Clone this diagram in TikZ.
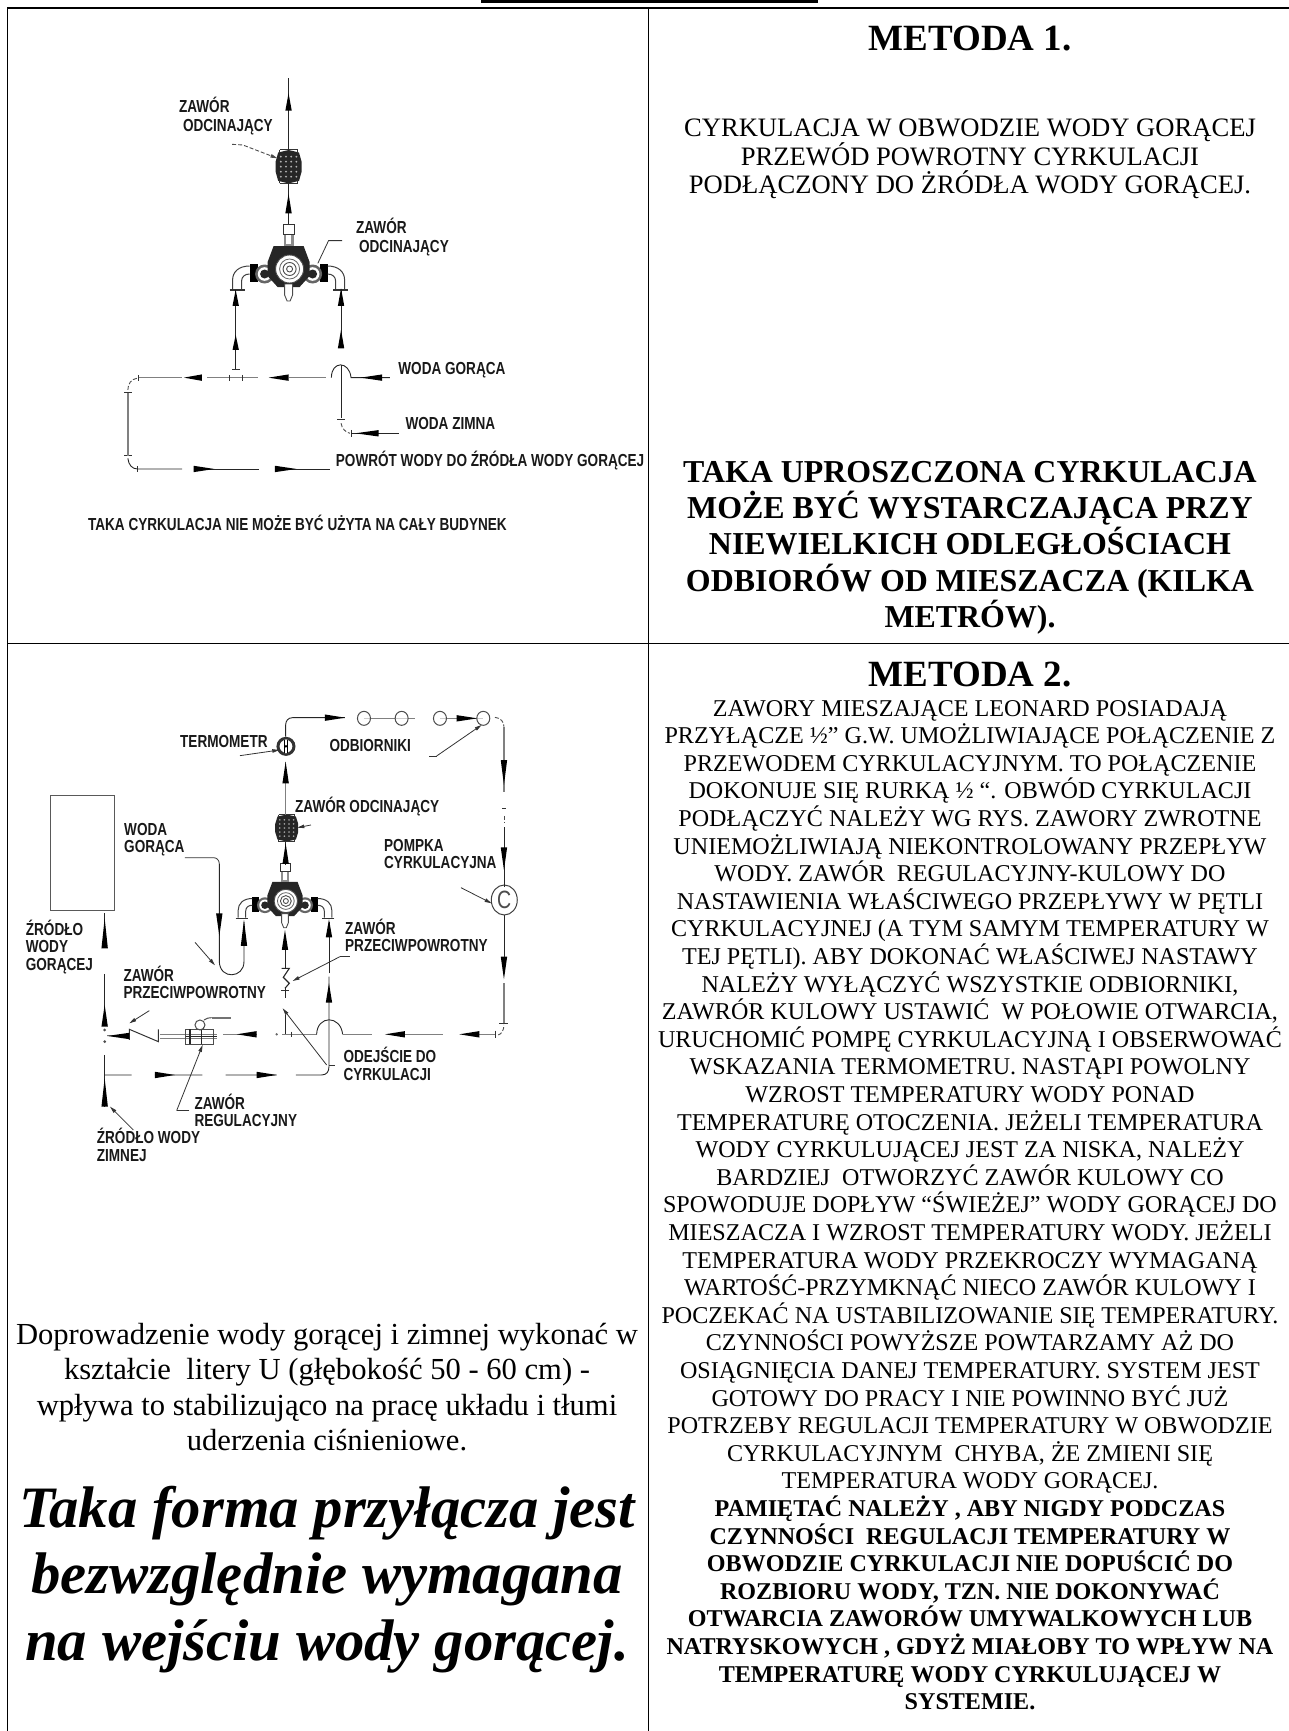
\documentclass[tikz,border=0pt]{standalone}
\usepackage{fontspec}
\setmainfont{Liberation Serif}
\newfontfamily\lab[FakeStretch=0.78]{Liberation Sans}
\usetikzlibrary{calc,arrows.meta}
\tikzset{
  pipe/.style={line width=0.9pt,black!85},
  pipeg/.style={line width=1.5pt,black!50},
  tick/.style={line width=0.8pt,black!80},
  dashp/.style={line width=0.9pt,black!70,dash pattern=on 4pt off 2pt},
  ptr/.style={line width=0.8pt,black!80,-{Triangle[length=7pt,width=3.5pt]}},
  ptrn/.style={line width=0.8pt,black!80},
  lbl/.style={anchor=west,inner sep=0pt,font=\lab\bfseries\fontsize{17.4pt}{17.4pt}\selectfont,align=left,text=black!90},
  body/.style={anchor=base,inner sep=0pt,font=\fontsize{24.1pt}{27pt}\selectfont},
  bodyl/.style={anchor=base,inner sep=0pt,font=\fontsize{26.6pt}{28pt}\selectfont},
  bodyb/.style={anchor=base,inner sep=0pt,font=\bfseries\fontsize{24.1pt}{27pt}\selectfont},
  head/.style={anchor=base,inner sep=0pt,font=\bfseries\fontsize{37pt}{40pt}\selectfont},
  bigb/.style={anchor=base,inner sep=0pt,font=\bfseries\fontsize{31.9pt}{36pt}\selectfont},
  para/.style={anchor=base,inner sep=0pt,font=\fontsize{30.6pt}{36pt}\selectfont},
  bigi/.style={anchor=base,inner sep=0pt,font=\bfseries\itshape\fontsize{58.7pt}{67pt}\selectfont},
  rule/.style={line width=1pt,black}
}
\def\ah(#1)(#2){\fill[black] (#1) -- ($(#2)!3.2pt!90:(#1)$) -- ($(#2)!3.2pt!-90:(#1)$) -- cycle;}
\newcommand\mixer[3]{%
  \begin{scope}[shift={(#1,#2)},x=#3pt,y=-#3pt]
    \foreach \sg in {-1,1}{
      \begin{scope}[xscale=\sg]
        \fill[black] (-39,-2) rectangle (-31,16);
        \draw[line width=1pt,black!75] (-39,0) .. controls (-50,0) and (-56,6) .. (-56,14) -- (-56,23);
        \draw[line width=1pt,black!75] (-39,8) .. controls (-44,8) and (-47,11) .. (-47,15) -- (-47,23);
        \draw[line width=1.1pt,black!80] (-59,24) -- (-44,24);
        \fill[black!60] (-24,8) circle [radius=9.5];
        \fill[white] (-24,8) circle [radius=6.8];
        \fill[black!85] (-24,8) circle [radius=4.5];
      \end{scope}
    }
    \fill[black!85] (-15,-20) -- (15,-20) -- (21,-4) -- (21,10) -- (11,21) -- (-11,21) -- (-21,10) -- (-21,-4) -- cycle;
    \fill[black!45] (-5,-32) rectangle (5,-20);
    \fill[white] (-2.5,-32) rectangle (2.5,-22);
    \draw[line width=1pt,black!80,fill=white] (-5,-42) rectangle (6,-32);
    \draw[line width=0.9pt,black!70,fill=white] (-4,18) -- (-4,29) -- (-1.5,35) -- (1.5,35) -- (4,29) -- (4,18) -- cycle;
    \draw[line width=0.9pt,black!70,fill=white] (1,3) circle [radius=14];
    \draw[line width=0.8pt,black!60] (1,3) circle [radius=10];
    \draw[line width=0.9pt,black!70] (1,3) circle [radius=6.5];
    \draw[line width=0.9pt,black!70] (1,3) circle [radius=3];
  \end{scope}}
\newcommand\hexvalve[4]{%
  \begin{scope}[shift={(#1,#2)},x=#3pt,y=-#4pt]
    \fill[black!85] (0,-1) -- (0.8,-0.85) -- (1,-0.3) -- (1,0.3) -- (0.8,0.85) -- (0,1) -- (-0.8,0.85) -- (-1,0.3) -- (-1,-0.3) -- (-0.8,-0.85) -- cycle;
    \foreach \i in {-0.6,-0.2,0.2,0.6}\foreach \j in {-0.6,-0.3,0,0.3,0.6}{\fill[black!30] (\i,\j) circle [x radius=0.08,y radius=0.06];}
    \draw[line width=1pt,black!80] (-0.7,-1) -- (0.7,-1) (-0.7,1) -- (0.7,1);
    \draw[line width=0.7pt,black!80] (-0.7,-1) -- (-0.7,-0.8) (0.7,-1) -- (0.7,-0.8) (-0.7,1) -- (-0.7,0.8) (0.7,1) -- (0.7,0.8);
  \end{scope}}
\begin{document}
\begin{tikzpicture}[x=1pt,y=-1pt]
\useasboundingbox (0,0) rectangle (1289,1731);
% page frame
\fill[black] (481,0) rectangle (818,3);
\draw[line width=1.5pt] (7,8) -- (1289,8);
\draw[rule] (7,8) -- (7,1731);
\draw[rule] (648,8) -- (648,1731);
\draw[rule] (7,643) -- (1289,643);

% ---------- first diagram
\mixer{288.6}{266}{1}
\hexvalve{288.6}{166.7}{13}{16.7}
\begin{scope}[shift={(100,50)},x=0.3571pt,y=-0.3333pt]
  \draw[pipe] (528,85) -- (528,300);
  \ah(528,130)(528,182)
  \draw[pipe] (528,400) -- (528,522);
  \ah(528,432)(528,490)
  \draw[ptr,dashp] (370,283) -- (400,285) -- (497,325);
  \draw[ptrn] (678,572) -- (640,572) -- (610,640);
  \draw[pipe] (380,958) -- (380,722);
  \ah(380,720)(380,768)
  \ah(380,855)(380,900)
  \draw[pipe] (675,722) -- (675,895);
  \ah(675,715)(675,768)
  \ah(675,840)(675,895)
  % hot line
  \draw[pipeg] (108,983) -- (230,983) (300,983) -- (443,983) (528,983) -- (632,983);
  \ah(235,983)(285,983)
  \ah(472,983)(528,983)
  \draw[tick] (362,975) -- (362,992) (400,975) -- (400,992) (370,958) -- (392,958) (108,975) -- (108,992);
  \draw[pipe] (648,983) .. controls (648,932) and (698,932) .. (703,983) -- (812,983);
  \ah(730,983)(790,983)
  % cold
  \draw[pipe] (675,945) -- (675,1105);
  \draw[tick] (665,1108) -- (685,1108);
  \draw[dashp] (675,1120) .. controls (677,1135) and (688,1148) .. (700,1150);
  \draw[tick] (703,1140) -- (703,1160);
  \draw[pipe] (703,1150) -- (838,1150);
  \ah(715,1150)(780,1150)
  % return
  \draw[dashp] (103,985) .. controls (88,988) and (78,1000) .. (78,1020);
  \draw[tick] (68,1028) -- (90,1028) (68,1217) -- (90,1217) (105,1248) -- (105,1267);
  \draw[pipeg] (78,1028) -- (78,1217);
  \draw[pipe] (78,1225) .. controls (80,1245) and (90,1257) .. (105,1257) -- (230,1257);
  \draw[pipe] (262,1257) -- (445,1257);
  \ah(320,1257)(262,1257)
  \draw[pipe] (490,1257) -- (643,1257);
  \ah(550,1257)(490,1257)
  % labels
  \node[lbl] (a1) at (232,197) {\hspace*{-4pt}ZAWÓR\\[1.6pt]ODCINAJĄCY};
  \node[lbl] (a2) at (725,562) {\hspace*{-3pt}ZAWÓR\\[1.6pt]ODCINAJĄCY};
  \node[lbl] (a3) at (835,962) {WODA GORĄCA};
  \node[lbl] (a4) at (855,1120) {WODA ZIMNA};
  \node[lbl] (a5) at (660,1232) {POWRÓT WODY DO ŹRÓDŁA WODY GORĄCEJ};
  \node[lbl] (a6) at (-34,1418) {TAKA CYRKULACJA NIE MOŻE BYĆ UŻYTA NA CAŁY BUDYNEK};
\end{scope}

% ---------- second diagram
\mixer{285}{898.5}{0.836}
\hexvalve{286.7}{828}{11.5}{13.5}
\begin{scope}[shift={(20,690)},x=0.3333pt,y=-0.3333pt]
  % source
  \draw[line width=1.1pt,black!65] (92,317) rectangle (283,662);
  \draw[pipe] (254,670) -- (254,770);
  \ah(254,685)(254,775)
  \draw[pipe] (254,852) -- (254,1005);
  \ah(254,945)(254,1010)
  \fill[black!70] (254,1020) circle (1.5pt) (254,1055) circle (1.5pt);
  \draw[pipe] (254,1095) -- (254,1250);
  \ah(254,1165)(254,1250)
  % cold branch
  \draw[pipe] (254,1155) -- (335,1155) (405,1155) -- (547,1155) (617,1155) -- (770,1155) (828,1155) -- (905,1155) .. controls (920,1155) and (927,1145) .. (927,1130) -- (927,860);
  \ah(465,1155)(405,1155)
  \ah(770,1155)(710,1155)
  \draw[tick] (927,1125) -- (945,1125);
  \ah(927,880)(927,938)
  \draw[pipe] (927,850) -- (927,695);
  \ah(927,688)(927,742)
  % hot line
  \draw[pipeg] (787,1033) -- (890,1033) (970,1033) -- (1055,1033) (1150,1033) -- (1268,1033) (1378,1033) -- (1425,1033);
  \draw[pipe] (890,1033) .. controls (892,975) and (962,975) .. (968,1033);
  \ah(1095,1033)(1155,1033)
  \ah(1318,1033)(1378,1033)
  \draw[tick] (1425,1022) -- (1425,1045) (1438,1000) -- (1465,1000) (815,1025) -- (815,1040);
  \draw[dashp] (1435,1035) .. controls (1445,1032) and (1452,1020) .. (1452,1005);
  \draw[pipeg] (1452,1000) -- (1452,880);
  \ah(1452,868)(1452,800)
  \draw[pipe] (1452,800) -- (1452,675);
  \draw[line width=1pt,black!75,fill=white] (1453,630) ellipse (13pt and 15pt);
  \node[inner sep=0pt,font=\lab\fontsize{25pt}{25pt}\selectfont,text=black!70] (c) at (1453,630) {C};
  \draw[pipe] (1452,590) -- (1452,410);
  \ah(1452,540)(1452,472)
  \draw[tick] (1447,355) -- (1458,355);
  \draw[dashp] (1452,378) -- (1452,400);
  \draw[pipeg] (1452,305) -- (1452,110);
  \ah(1452,285)(1452,210)
  \draw[dashp] (1425,82) .. controls (1442,84) and (1452,95) .. (1452,110);
  % top
  \draw[pipe] (797,140) -- (797,105) .. controls (797,92) and (805,83) .. (818,83) -- (975,83);
  \ah(975,83)(915,83)
  \draw[pipeg] (1032,85) -- (1185,85) (1260,85) -- (1390,85);
  \ah(1372,85)(1310,85)
  \foreach \cx/\nm in {1032/r1,1145/r2,1260/r3,1390/r4}{\draw[line width=1pt,black!70,fill=white,fill opacity=0.6] (\cx,85) ellipse (6.5pt and 7pt);}
  \draw[ptrn] (1228,198) -- (1250,198);
  \draw[ptr] (1250,198) -- (1385,105);
  % thermometer
  \draw[line width=3pt,black!80,fill=white] (798,169) circle (8pt);
  \fill[white] (798,169) ellipse (4pt and 7pt);
  \draw[line width=0.8pt,black] (794,150) -- (794,188) (802,150) -- (802,188);
  \fill[black] (798,169) circle (1.4pt);
  \draw[ptr] (660,197) -- (778,180);
  % between thermometer and valve
  \draw[pipeg] (797,215) -- (797,375);
  \ah(797,215)(797,280)
  \draw[ptr] (873,405) -- (832,413);
  \draw[pipe] (797,455) -- (797,525);
  \ah(797,460)(797,522)
  % check valve below mixer
  \draw[pipe] (795,780) -- (795,835);
  \ah(795,720)(795,780)
  \draw[line width=1.1pt,black!85] (785,835) -- (808,835) -- (790,862) -- (808,880) -- (795,895);
  \draw[tick] (783,900) -- (808,900);
  \draw[pipe] (795,895) -- (795,925);
  \draw[pipe] (795,975) -- (795,1033);
  \fill[black!60] (770,1033) circle (1.3pt);
  \draw[ptr] (920,1125) -- (788,955);
  % U bend
  \draw[ptrn] (495,503) -- (580,503) .. controls (590,503) and (598,510) .. (598,522);
  \draw[pipe] (598,522) -- (598,815) .. controls (600,870) and (672,865) .. (672,815) -- (672,695);
  \ah(598,738)(598,670)
  \ah(672,690)(672,768)
  \draw[ptr] (525,757) -- (585,826);
  % hot branch to left
  \draw[pipeg] (610,1033) -- (710,1033);
  \ah(650,1033)(710,1033)
  % ball valve
  \draw[pipeg,line width=1pt] (420,1035) -- (590,1035) (420,1045) -- (590,1045);
  \draw[line width=1pt,black!70] (497,1018) rectangle (580,1063);
  \draw[line width=1.1pt,black!85] (510,1018) -- (510,1063) (545,1018) -- (545,1063) (497,1040) -- (590,1040);
  \draw[line width=1pt,black!70] (540,1005) circle (5pt);
  \draw[line width=1pt,black!70] (552,990) .. controls (560,985) and (565,983) .. (575,983);
  \draw[line width=1.8pt,black!55] (575,983) -- (633,983);
  \draw[line width=1pt,black!70] (530,1015) -- (530,1020) (552,1012) -- (552,1020);
  % check valve left
  \draw[line width=1pt,black!80] (415,1018) -- (415,1055) -- (328,1018) -- (328,1050);
  \draw[pipeg,line width=1pt] (262,1038) -- (328,1038);
  \ah(262,1038)(328,1038)
  \draw[ptr] (388,962) -- (328,1000);
  % pointers
  \draw[ptrn] (508,1262) -- (470,1262);
  \draw[ptr] (470,1262) -- (548,1065);
  \draw[ptr] (340,1320) -- (270,1250);
  \draw[ptrn] (990,800) -- (960,800);
  \draw[ptr] (960,800) -- (818,873);
  \draw[ptr] (1323,593) -- (1415,640);
  % labels
  \node[lbl] (b1) at (480,155) {TERMOMETR};
  \node[lbl] (b2) at (928,168) {ODBIORNIKI};
  \node[lbl] (b3) at (825,350) {ZAWÓR ODCINAJĄCY};
  \node[lbl] (b4) at (312,449) {WODA\\GORĄCA};
  \node[lbl] (b5) at (1092,492) {POMPKA\\CYRKULACYJNA};
  \node[lbl] (b6) at (17,770) {ŹRÓDŁO\\WODY\\GORĄCEJ};
  \node[lbl] (b7) at (310,878) {ZAWÓR\\PRZECIWPOWROTNY};
  \node[lbl] (b8) at (975,737) {ZAWÓR\\PRZECIWPOWROTNY};
  \node[lbl] (b9) at (970,1122) {ODEJŚCIE DO\\CYRKULACJI};
  \node[lbl] (b10) at (523,1262) {ZAWÓR\\REGULACYJNY};
  \node[lbl] (b11) at (230,1365) {ŹRÓDŁO WODY\\ZIMNEJ};
\end{scope}

% ---------- left text
\foreach \t [count=\i] in {{Doprowadzenie wody gorącej i zimnej wykonać w},{kształcie~ litery U (głębokość 50 - 60 cm) -},{wpływa to stabilizująco na pracę układu i tłumi},{uderzenia ciśnieniowe.}}
  \node[para] (p\i) at (327,{1344+35.6*(\i-1)}) {\t};
\foreach \t [count=\i] in {{Taka forma przyłącza jest},{bezwzględnie wymagana},{na wejściu wody gorącej.}}
  \node[bigi] (q\i) at (327,{1527+66.5*(\i-1)}) {\t};

% ---------- right text, method 1
\node[head] (m1) at (970,51) {METODA 1.};
\foreach \t [count=\i] in {{CYRKULACJA W OBWODZIE WODY GORĄCEJ},{PRZEWÓD POWROTNY CYRKULACJI},{PODŁĄCZONY DO ŻRÓDŁA WODY GORĄCEJ.}}
  \node[bodyl] (r\i) at (970,{137+28.4*(\i-1)}) {\t};
\foreach \t [count=\i] in {{TAKA UPROSZCZONA CYRKULACJA},{MOŻE BYĆ WYSTARCZAJĄCA PRZY},{NIEWIELKICH ODLEGŁOŚCIACH},{ODBIORÓW OD MIESZACZA (KILKA},{METRÓW).}}
  \node[bigb] (s\i) at (970,{482+36.4*(\i-1)}) {\t};

% ---------- right text, method 2
\node[head] (m2) at (970,686) {METODA 2.};
\foreach \t [count=\i] in {
 {ZAWORY MIESZAJĄCE LEONARD POSIADAJĄ},
 {PRZYŁĄCZE ½” G.W. UMOŻLIWIAJĄCE POŁĄCZENIE Z},
 {PRZEWODEM CYRKULACYJNYM. TO POŁĄCZENIE},
 {DOKONUJE SIĘ RURKĄ ½ “. OBWÓD CYRKULACJI},
 {PODŁĄCZYĆ NALEŻY WG RYS. ZAWORY ZWROTNE},
 {UNIEMOŻLIWIAJĄ NIEKONTROLOWANY PRZEPŁYW},
 {WODY. ZAWÓR~ REGULACYJNY-KULOWY DO},
 {NASTAWIENIA WŁAŚCIWEGO PRZEPŁYWY W PĘTLI},
 {CYRKULACYJNEJ (A TYM SAMYM TEMPERATURY W},
 {TEJ PĘTLI). ABY DOKONAĆ WŁAŚCIWEJ NASTAWY},
 {NALEŻY WYŁĄCZYĆ WSZYSTKIE ODBIORNIKI,},
 {ZAWRÓR KULOWY USTAWIĆ~ W POŁOWIE OTWARCIA,},
 {URUCHOMIĆ POMPĘ CYRKULACYJNĄ I OBSERWOWAĆ},
 {WSKAZANIA TERMOMETRU. NASTĄPI POWOLNY},
 {WZROST TEMPERATURY WODY PONAD},
 {TEMPERATURĘ OTOCZENIA. JEŻELI TEMPERATURA},
 {WODY CYRKULUJĄCEJ JEST ZA NISKA, NALEŻY},
 {BARDZIEJ~ OTWORZYĆ ZAWÓR KULOWY CO},
 {SPOWODUJE DOPŁYW “ŚWIEŻEJ” WODY GORĄCEJ DO},
 {MIESZACZA I WZROST TEMPERATURY WODY. JEŻELI},
 {TEMPERATURA WODY PRZEKROCZY WYMAGANĄ},
 {WARTOŚĆ-PRZYMKNĄĆ NIECO ZAWÓR KULOWY I},
 {POCZEKAĆ NA USTABILIZOWANIE SIĘ TEMPERATURY.},
 {CZYNNOŚCI POWYŻSZE POWTARZAMY AŻ DO},
 {OSIĄGNIĘCIA DANEJ TEMPERATURY. SYSTEM JEST},
 {GOTOWY DO PRACY I NIE POWINNO BYĆ JUŻ},
 {POTRZEBY REGULACJI TEMPERATURY W OBWODZIE},
 {CYRKULACYJNYM~ CHYBA, ŻE ZMIENI SIĘ},
 {TEMPERATURA WODY GORĄCEJ.}}
  \node[body] (t\i) at (970,{716+27.6*(\i-1)}) {\t};
\foreach \t [count=\i] in {
 {PAMIĘTAĆ NALEŻY , ABY NIGDY PODCZAS},
 {CZYNNOŚCI~ REGULACJI TEMPERATURY W},
 {OBWODZIE CYRKULACJI NIE DOPUŚCIĆ DO},
 {ROZBIORU WODY, TZN. NIE DOKONYWAĆ},
 {OTWARCIA ZAWORÓW UMYWALKOWYCH LUB},
 {NATRYSKOWYCH , GDYŻ MIAŁOBY TO WPŁYW NA},
 {TEMPERATURĘ WODY CYRKULUJĄCEJ W},
 {SYSTEMIE.}}
  \node[bodyb] (u\i) at (970,{716+27.6*(\i+28)}) {\t};
\end{tikzpicture}
\end{document}
